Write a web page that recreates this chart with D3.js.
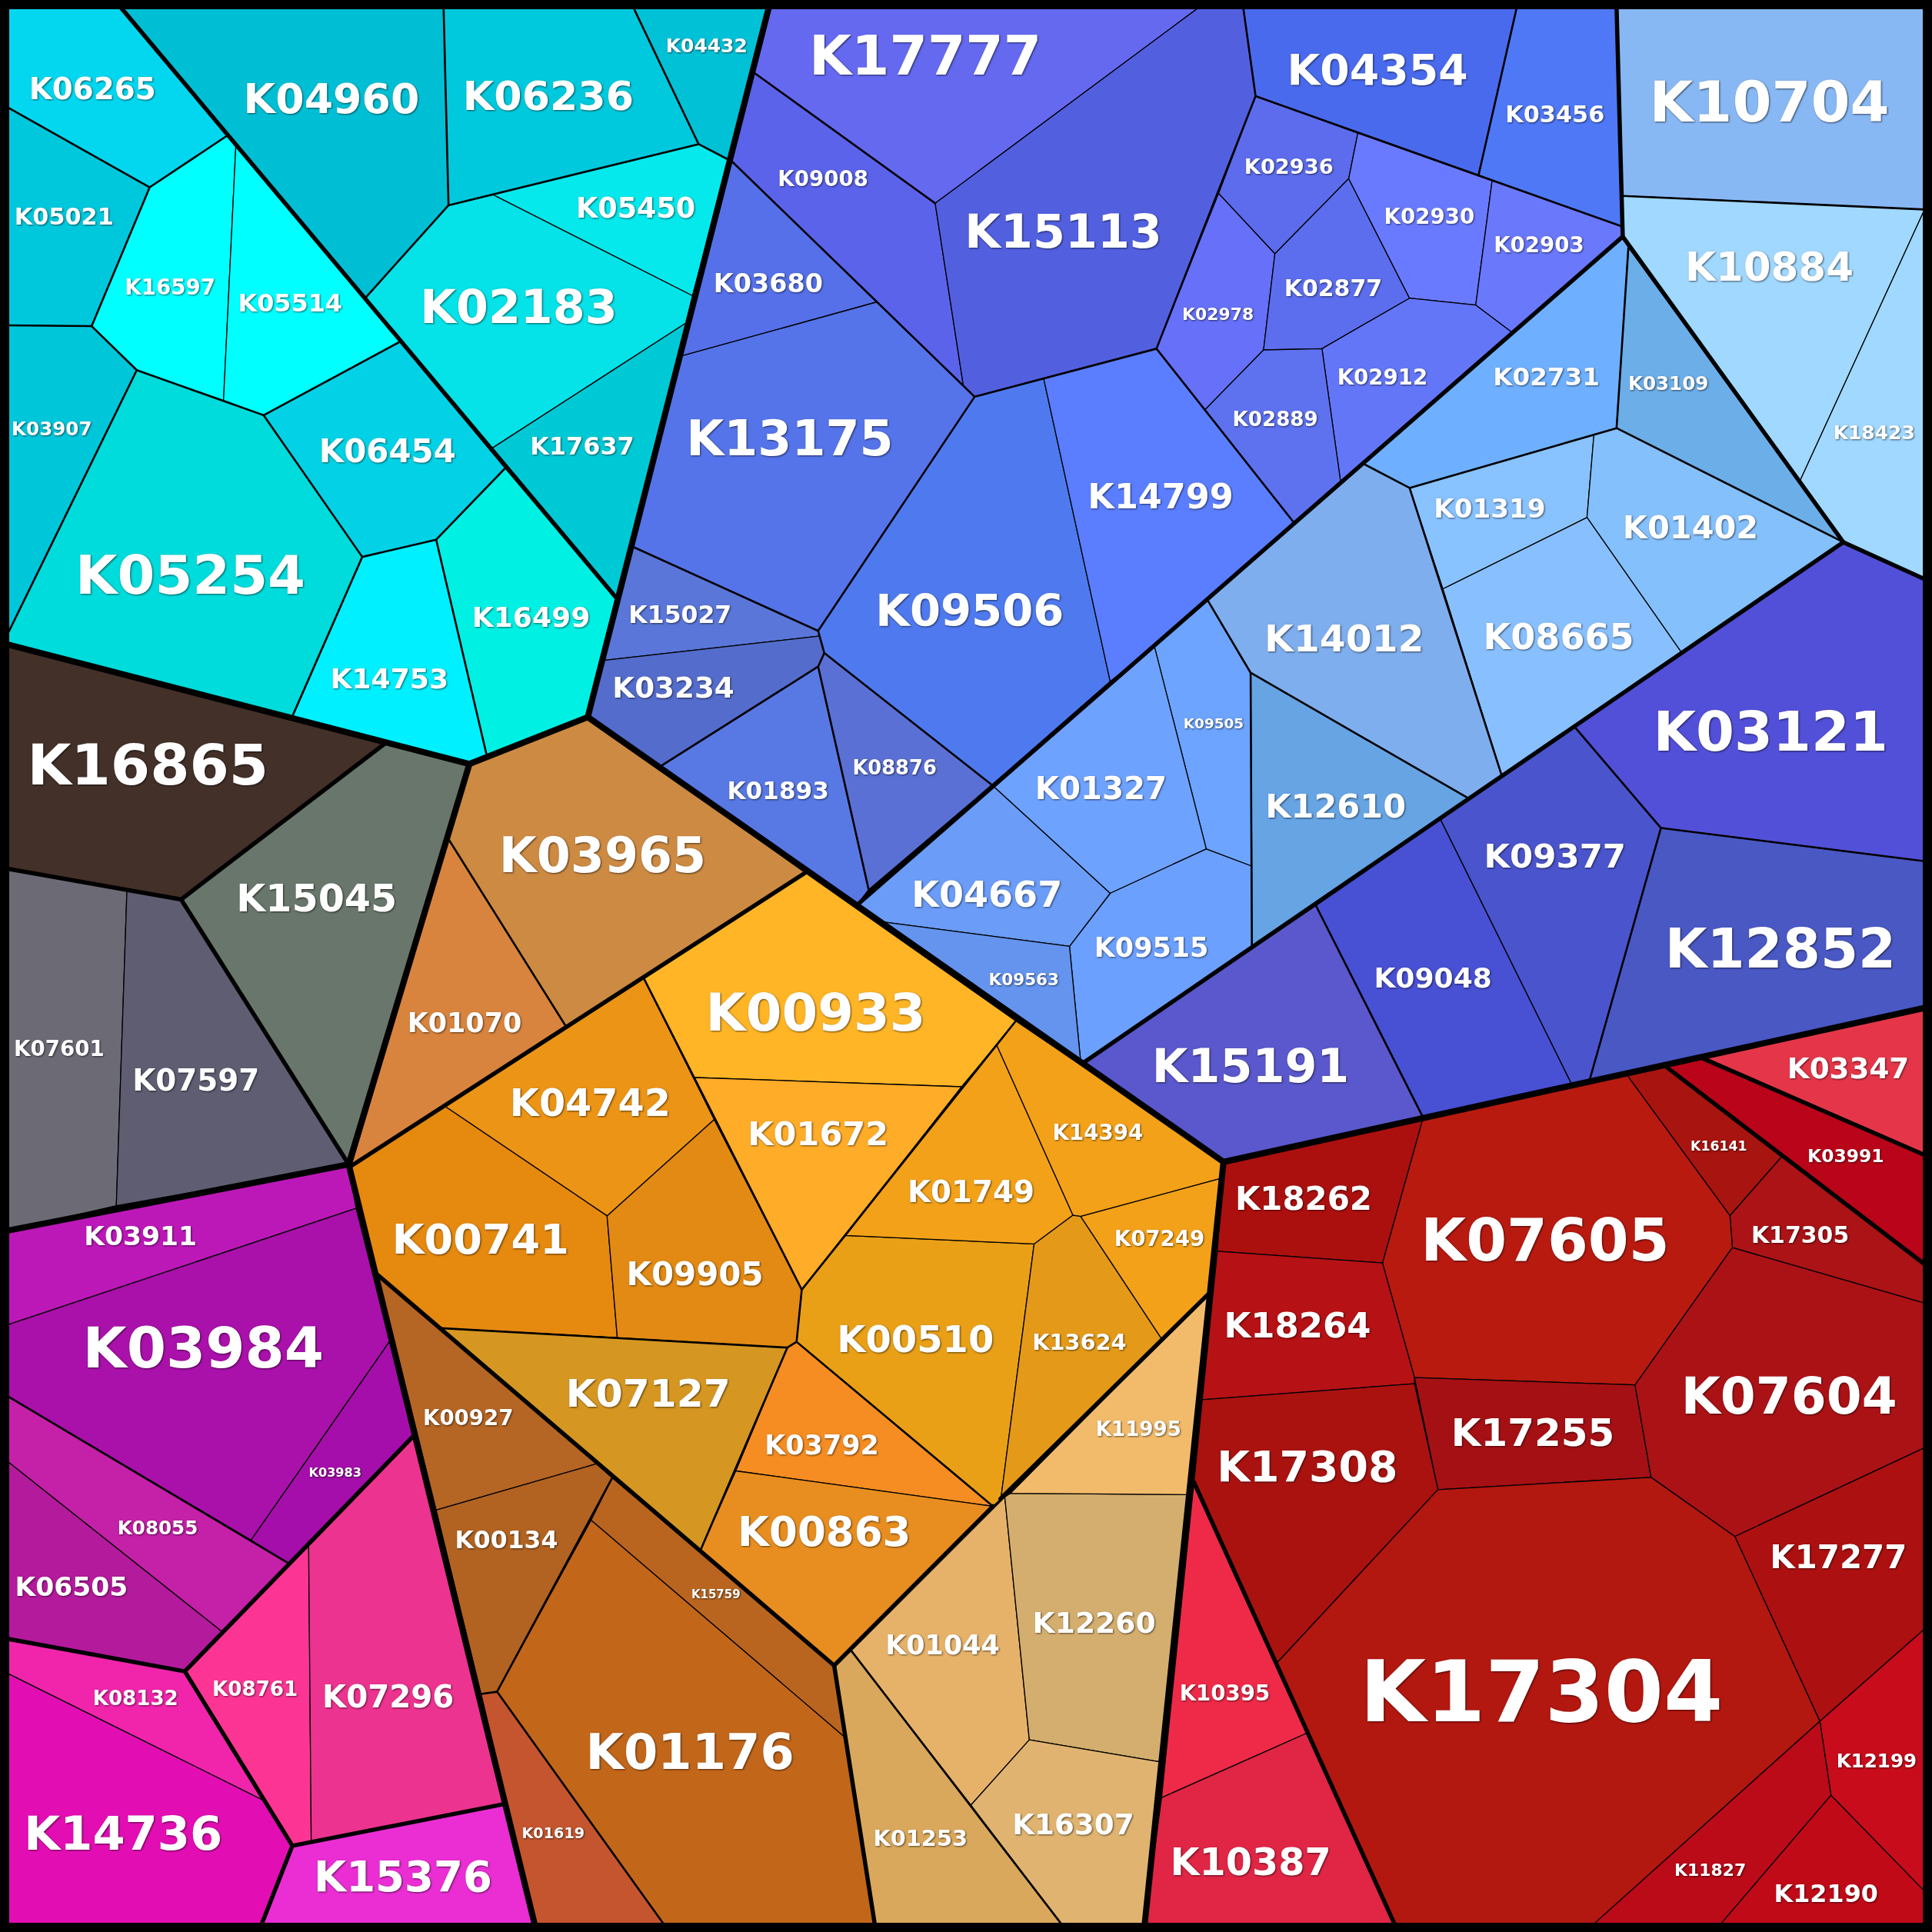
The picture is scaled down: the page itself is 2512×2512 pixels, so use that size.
<!DOCTYPE html>
<html><head><meta charset="utf-8">
<script src="https://cdn.jsdelivr.net/npm/d3@7"></script>
<style>html,body{margin:0;padding:0;background:#000}svg{display:block}</style>
</head><body><svg id="c" width="2512" height="2512"></svg>
<script>
const terms = ["K06265","K05021","K16597","K05514","K03907","K05254","K06454","K14753","K16499","K04960","K06236","K04432","K05450","K02183","K17637",
"K17777","K09008","K15113","K03680","K13175","K15027","K03234","K01893","K08876","K09506","K14799","K04354","K03456","K02936","K02978","K02877","K02930","K02903","K02912","K02889",
"K02731","K03109","K01319","K01402","K08665","K14012","K12610","K09505","K01327","K09515","K04667","K09563","K10704","K10884","K18423","K03121","K09377","K09048","K12852","K15191",
"K03347","K03991","K16141","K17305","K07605","K18262","K18264","K17255","K17308","K07604","K17277","K17304","K12199","K12190","K11827","K10395","K10387",
"K00933","K01672","K04742","K00741","K09905","K07127","K03792","K00863","K00510","K01749","K14394","K07249","K13624","K03965","K01070",
"K00927","K00134","K15759","K01176","K01619","K01253","K01044","K12260","K16307","K11995",
"K16865","K15045","K07601","K07597","K03911","K03984","K03983","K08055","K06505","K08132","K14736","K08761","K07296","K15376"];

const weights = [101,79,72,83,64,183,109,94,94,140,136,65,95,157,83,
185,72,157,87,165,82,97,81,67,150,116,144,79,71,57,78,72,72,72,68,
85,64,89,108,120,127,112,48,105,91,120,56,191,134,65,187,113,94,184,157,
97,61,45,78,198,109,117,130,144,172,109,289,64,83,57,72,128,
175,112,128,141,109,131,91,138,125,101,72,72,75,165,91,
72,82,39,166,50,75,91,98,97,68,
192,128,72,101,90,192,42,64,90,68,158,68,105,142];

const colors = ["#03d7ef","#00c8dc","#00ffff","#00ffff","#00c6da","#00dbdb","#03d2e6","#00f0ff","#00f0e4","#00bfd4","#00c9dd","#00c1d6","#05e9ec","#05e2e8","#00c9d6",
"#6569f0","#5b63eb","#5260e0","#5570e8","#5574ea","#5a76d8","#546ccb","#5878e4","#5a70d4","#4f7aef","#5a7eff","#4a6aee","#4f78f6","#5c6cec","#6670f8","#5c6eee","#6a7aff","#6a78fc","#6476f8","#5e72f0",
"#6eb0ff","#6caee8","#88c2ff","#84c0fc","#88c0ff","#7eaeee","#66a4e4","#6ca4ff","#6ea2ff","#6ca0ff","#6a9cf8","#6494ee","#88b8f4","#a0d8ff","#a0d8ff","#5250d8","#4a54cc","#4850d4","#4a58c4","#5a58cc",
"#e53649","#ba0419","#a8140f","#ab1316","#b81a10","#ab100f","#b61115","#a51014","#aa1210","#ab1216","#ad1010","#b21710","#c80c1c","#c00a18","#bb0a18","#ee2a48","#e02545",
"#ffb525","#ffac28","#ec9415","#e5890f","#e28a13","#d59722","#f58d22","#e88e20","#e9a017","#f3a118","#f3a118","#f3a118","#e49a18","#cd8a42","#d8843e",
"#b56524","#b26322","#b9651f","#c2661a","#c4552e","#d9a85c","#e6b26a","#d4ae6e","#e0b470","#f2bb6c",
"#433029","#69766b","#6c6a75","#5e5d72","#bc18b8","#aa10aa","#a50eaa","#c420a8","#b41a9c","#f025ab","#e30eb3","#fc3595","#ec338f","#ea2ed4"];

const labelX = [75,52,138,235.5,42,154.5,314.5,316,431,269,445,573.5,516,421,472.5,
751,668,863,623.5,641,552,546.5,631.5,726,787,942,1118,1262,1046,988.5,1082,1160,1249,1122,1035,
1255,1354,1209,1372,1265,1091,1084,985,893.5,934.5,801,831,1436,1436,1521,1437,1262,1163,1445,1015,
1500,1498,1395,1461,1254,1058,1053,1244,1061,1452,1492,1251,1523,1482,1388,994,1015,
662,664,479,390,564,526,667,669,743,788,891,941,876,489,377,
380,411,581,560,449,747,765,888,871,924,
120,257,48,159,114,165,272,128,58,110,100,207,315,327];

const labelY = [72,176,233,246,348,467,366,551,501,80,78,37,169,249,362,
45,145,188,230,356,499,558,642,623,496,403,57,93,135,255,234,176,199,306,340,
306,311,413,428,517,518,654,587,640,769,726,795,83,217,351,594,695,794,770,865,
867,938,930,1002,1007,973,1076,1163,1190,1133,1264,1373,1429,1537,1518,1374,1511,
822,920,895,1006,1034,1131,1173,1243,1087,967,919,1005,1089,694,830,
1151,1250,1294,1422,1488,1492,1335,1317,1481,1160,
621,729,851,877,1003,1094,1195,1240,1288,1378,1488,1371,1377,1523];

const polygons = [
[[6,6],[98,6],[184.5,110],[121.5,152],[6,87]],
[[6,87],[121.5,152],[74.4,264.7],[6,264]],
[[184.5,110],[191.4,118.4],[181.4,325],[111,300.4],[74.4,264.7],[121.5,152]],
[[191.4,118.4],[324.7,277.3],[214,337],[181.4,325]],
[[6,264],[74.4,264.7],[111,300.4],[6,515]],
[[111,300.4],[214,337],[294,452],[237,582],[6,523],[6,515]],
[[214,337],[324.7,277.3],[410,380],[354,438],[294,452]],
[[294,452],[354,438],[395,613],[381,620],[237,582]],
[[354,438],[410,380],[500,485],[477,582],[395,613]],
[[98,6],[360,6],[364,166.6],[296.7,241.6]],
[[360,6],[514,6],[567,117],[400,158],[364,166.6]],
[[514,6],[624,6],[592,130],[567,117]],
[[400,158],[567,117],[592,130],[562,240]],
[[296.7,241.6],[364,166.6],[400,158],[562,240],[557,262],[399,364]],
[[399,364],[557,262],[500,485]],
[[624,6],[973,6],[759,165],[612,59]],
[[612,59],[759,165],[782,314],[712,245],[593,130]],
[[973,6],[1009,6],[1019,78],[989,157],[938.6,283],[847,307],[791,322],[782,314],[759,165]],
[[593,130],[712,245],[553,289]],
[[553,289],[712,245],[791,322],[664,512],[512,443]],
[[512,443],[664,512],[667,516],[490,536]],
[[490,536],[667,516],[669,530],[664,541],[536,622],[477,582]],
[[536,622],[664,541],[705,722],[695,735]],
[[664,541],[669,530],[805,637],[705,722]],
[[791,322],[847,307],[901,553],[805,637],[669,530],[664,512]],
[[847,307],[938.6,283],[978,332.5],[1050,424],[980,487],[937,525],[901,553]],
[[1009,6],[1231,6],[1200,142],[1102,108],[1019,78]],
[[1231,6],[1312,6],[1317,184],[1211,146.7],[1200,142]],
[[1019,78],[1102,108],[1094.6,145],[1034.7,206],[989,157]],
[[989,157],[1034.7,206],[1025.5,284],[978,332.5],[938.6,283]],
[[1034.7,206],[1094.6,145],[1144,242],[1072.9,283],[1025.5,284]],
[[1102,108],[1211,146.7],[1197.7,247.6],[1144,242],[1094.6,145]],
[[1211,146.7],[1317,184],[1317,192],[1227,269.7],[1197.7,247.6]],
[[1144,242],[1197.7,247.6],[1227,269.7],[1088,390.8],[1072.9,283]],
[[1025.5,284],[1072.9,283],[1088,390.8],[1050,424],[978,332.5]],
[[1317,192],[1321.6,200.8],[1312,347.5],[1144,396],[1107,376.6]],
[[1321.6,200.8],[1496,440],[1312,347.5]],
[[1144,396],[1293.6,353],[1288,420],[1171,478]],
[[1293.6,353],[1312,347.5],[1496,440],[1365,530],[1288,420]],
[[1171,478],[1288,420],[1365,530],[1219,630]],
[[1107,376.6],[1144,396],[1171,478],[1219,630],[1192,648],[1015,546],[980,487]],
[[1015,546],[1192,648],[1016,770]],
[[980,487],[1015,546],[1016,703],[979,689],[937,525]],
[[937,525],[979,689],[901,725],[805,637]],
[[979,689],[1016,703],[1016,770],[880,862],[877,861],[868,768],[901,725]],
[[805,637],[901,725],[868,768],[715,748],[695,735]],
[[715,748],[868,768],[877,861]],
[[1312,6],[1562,6],[1562,170],[1317,159]],
[[1317,159],[1562,170],[1461,390],[1317,192]],
[[1562,170],[1562,470],[1496,440],[1461,390]],
[[1496,440],[1562,470],[1562,699],[1348,672],[1278,590]],
[[1278,590],[1348,672],[1290,877],[1276,881],[1169,665]],
[[1169,665],[1276,881],[1155,907],[1068,735]],
[[1348,672],[1562,699],[1562,818],[1290,877]],
[[1068,735],[1155,907],[993,943],[880,862]],
[[1382.7,859.3],[1562,818],[1562,937.4]],
[[1352.5,866],[1382.7,859.3],[1562,937.4],[1562,1026],[1446,938.8]],
[[1320.8,873],[1352.5,866],[1446,938.8],[1404,986.7]],
[[1446,938.8],[1562,1026],[1562,1057.6],[1406,1012.6],[1404,986.7]],
[[1155,907],[1320.8,873],[1404,986.7],[1406,1012.6],[1327,1124],[1148,1118],[1122,1025]],
[[993,943],[1155,907],[1122,1025],[988,1015.5]],
[[988,1015.5],[1122,1025],[1148,1118],[1148,1123],[975.8,1136]],
[[1148,1118],[1327,1124],[1340,1199],[1167,1209]],
[[975.8,1136],[1148,1123],[1167,1209],[1036,1350],[969,1203]],
[[1406,1012.6],[1562,1057.6],[1562,1175],[1408,1247],[1340,1199],[1327,1124]],
[[1408,1247],[1562,1175],[1562,1322],[1477,1397]],
[[1167,1209],[1340,1199],[1408,1247],[1477,1397],[1293,1562],[1132,1562],[1036,1350]],
[[1477,1397],[1562,1322],[1562,1535],[1486,1457]],
[[1486,1457],[1562,1535],[1562,1562],[1396,1562]],
[[1477,1397],[1486,1457],[1396,1562],[1293,1562]],
[[969,1203],[1062,1406],[942.7,1459]],
[[942.7,1459],[1062,1406],[1132,1562],[929,1562]],
[[653.6,708.3],[824.4,828.6],[780.5,882],[563.4,874.5],[522.3,793.6]],
[[563.4,874.5],[780.5,882],[650.7,1046.7],[579.6,908.7]],
[[522.3,793.6],[579.6,908.7],[492.7,986.8],[361.2,897.9]],
[[285,946.3],[361.2,897.9],[492.7,986.8],[501,1085.7],[357.6,1077.9],[306.5,1034.7]],
[[492.7,986.8],[579.6,908.7],[650.7,1046.7],[646.5,1089],[639,1093.7],[501,1085.7]],
[[357.6,1077.9],[501,1085.7],[639,1093.7],[597.2,1193.8],[568.7,1257.8]],
[[639,1093.7],[646.5,1089],[805.9,1222.5],[597.2,1193.8]],
[[597.2,1193.8],[805.9,1222.5],[677,1351.7],[568.7,1257.8]],
[[650.7,1046.7],[686.4,1002.7],[839.3,1009.6],[812.3,1216.4],[805.9,1222.5],[646.5,1089]],
[[686.4,1002.7],[780.5,882],[809,848.3],[870.8,986.3],[839.3,1009.6]],
[[809,848.3],[824.4,828.6],[993,943],[989.8,956.7],[877,987.3],[870.8,986.3]],
[[877,987.3],[989.8,956.7],[980.3,1050.6],[942.6,1086.5]],
[[839.3,1009.6],[870.8,986.3],[877,987.3],[942.6,1086.5],[812.3,1216.4]],
[[381,620],[477,582],[653.6,708.3],[459,832.5],[364,681]],
[[364,681],[459,832.5],[285,946.3]],
[[306.5,1034.7],[357.6,1077.9],[484.3,1188],[354,1225.6]],
[[354,1225.6],[484.3,1188],[496.9,1199.4],[403.4,1373],[390.4,1374.8]],
[[496.9,1199.4],[677,1351.5],[685.4,1409.7],[479.7,1233.8]],
[[479.7,1233.8],[685.4,1409.7],[710,1562],[539,1562],[403.4,1373]],
[[390.4,1374.8],[403.4,1373],[539,1562],[434,1562]],
[[677,1351.7],[690.8,1339.6],[788,1465],[861.8,1562],[710,1562]],
[[690.8,1339.6],[815.5,1215],[835.4,1412],[788,1465]],
[[815.5,1215],[820,1212],[963.6,1213],[941.7,1430],[835.4,1412]],
[[835.4,1412],[941.7,1430],[929,1562],[861.8,1562],[788,1465]],
[[980.3,1050.6],[963.6,1213],[820,1212]],
[[6,523],[237,582],[313,603],[147,730],[6,705]],
[[313,603],[381,620],[283,945],[147,730]],
[[6,705],[103,723],[94.4,978.6],[6,998.8]],
[[103,723],[147,730],[283,945],[94.4,978.6]],
[[6,998.8],[283,945],[289,980.7],[6,1075.3]],
[[6,1075.3],[289,980.7],[316.3,1088.6],[203.7,1250],[6,1133]],
[[316.3,1088.6],[335,1166],[234.2,1268.8],[203.7,1250]],
[[6,1133],[203.7,1250],[234.2,1268.8],[180.4,1324.4],[6,1186]],
[[6,1186],[180.4,1324.4],[150,1356.5],[6,1330]],
[[6,1330],[150,1356.5],[213.5,1461],[6,1358]],
[[6,1358],[213.5,1461],[237.3,1498],[212.2,1562],[6,1562]],
[[150,1356.5],[250.5,1254.7],[252.6,1495],[237.3,1498]],
[[250.5,1254.7],[335,1166],[410,1464],[252.6,1495]],
[[237.3,1498],[410,1464],[434,1562],[212.2,1562]]
];

const boundaryWidths = [8,5.5,2.6];
const outerBoundaries = [
[[6,523],[381,620],[477,582]],[[624,6],[477,582]],[[477,582],[993,943]],[[993,943],[1562,818]],[[993,943],[929,1562]],
[[381,620],[283,945],[434,1562]],[[283,945],[6,998.8]]];
const groupBoundaries = [
[[98,6],[500,485]],[[1317,192],[695,735]],[[1312,6],[1317,192],[1496,440],[1562,470]],[[1496,440],[880,862]],
[[306.5,1034.7],[677,1351.7],[710,1562]],[[805.9,1222.5],[677,1351.7]],[[980.3,1050.6],[812,1216.4]],[[969,1203],[1132,1562]],
[[1382.7,859.3],[1562,937.4]],[[1352.5,866],[1562,1026]],[[6,705],[147,730],[313,603]],[[147,730],[283,945]],
[[6,1330],[150,1356.5],[237.3,1498],[212.2,1562]],[[150,1356.5],[335,1166]],[[237.3,1498],[410,1464]],[[653.6,708.3],[285,946.3]]];
const familyBoundaries = [
[[6,87],[121.5,152],[184.5,110]],[[121.5,152],[74.4,264.7],[6,264]],[[74.4,264.7],[111,300.4],[214,337],[324.7,277.3]],[[111,300.4],[6,515]],
[[214,337],[294,452],[237,582]],[[294,452],[354,438],[410,380]],[[354,438],[395,613]],
[[360,6],[364,166.6],[296.7,241.6]],[[364,166.6],[567,117],[592,130]],[[514,6],[567,117]],
[[612,59],[759,165]],[[593,130],[791,322],[938.6,283],[1050,424]],[[1009,6],[1019,78],[938.6,283]],[[1019,78],[1317,184]],[[1231,6],[1200,142]],
[[791,322],[664,512],[512,443]],[[664,512],[669,530],[805,637]],[[669,530],[664,541],[536,622]],[[664,541],[705,722]],
[[1107,376.6],[1144,396],[1312,347.5],[1496,440]],[[1144,396],[1219,630]],[[1321.6,200.8],[1312,347.5]],[[980,487],[1015,546],[1192,648]],[[1015,546],[1016,770]],
[[1317,159],[1562,170]],[[1278,590],[1348,672],[1562,699]],[[1348,672],[1290,877]],[[1068,735],[1155,907]],
[[522.3,793.6],[650.7,1046.7],[646.5,1089],[805.9,1222.5]],[[824.4,828.6],[650.7,1046.7]],[[357.6,1077.9],[639,1093.7],[646.5,1089]],[[639,1093.7],[568.7,1257.8]],[[364,681],[459,832.5]],
[[496.9,1199.4],[403.4,1373],[539,1562]],[[403.4,1373],[390.4,1374.8]],[[690.8,1339.6],[861.8,1562]],[[6,1133],[234.2,1268.8]]];

const W = 2512;
const x = d3.scaleLinear().domain([0,1568]).range([0,W]);
const y = d3.scaleLinear().domain([0,1568]).range([0,W]);
const fontSize = d3.scaleLinear().domain([0,289]).range([0,111]);
const line = d3.line().x(d=>x(d[0])).y(d=>y(d[1]));
const cells = terms.map((t,i)=>({term:t,weight:weights[i],color:colors[i],lx:labelX[i],ly:labelY[i],poly:polygons[i]}));

const svg = d3.select("#c");
svg.append("rect").attr("width",W).attr("height",W).attr("fill","#000");
svg.append("g").selectAll("path").data(cells).join("path")
  .attr("d",d=>line(d.poly)+"Z").attr("fill",d=>d.color)
  .attr("stroke","#000").attr("stroke-width",1.3).attr("stroke-linejoin","round");
[outerBoundaries,groupBoundaries,familyBoundaries].forEach((set,k)=>{
  svg.append("g").selectAll("path").data(set).join("path")
    .attr("d",line).attr("fill","none").attr("stroke","#000")
    .attr("stroke-width",boundaryWidths[k]).attr("stroke-linejoin","round").attr("stroke-linecap","round");
});
svg.append("rect").attr("width",W).attr("height",W).attr("fill","none").attr("stroke","#000").attr("stroke-width",24);
svg.append("g").style("filter","drop-shadow(1.5px 1.5px 0.8px rgba(0,0,0,0.6))")
  .attr("font-family","'DejaVu Sans'").attr("font-weight","bold").attr("fill","#fff").attr("text-anchor","middle")
  .selectAll("text").data(cells).join("text")
  .attr("x",d=>x(d.lx)).attr("y",d=>y(d.ly)+0.345*fontSize(d.weight))
  .attr("font-size",d=>fontSize(d.weight)).text(d=>d.term);
</script></body></html>
